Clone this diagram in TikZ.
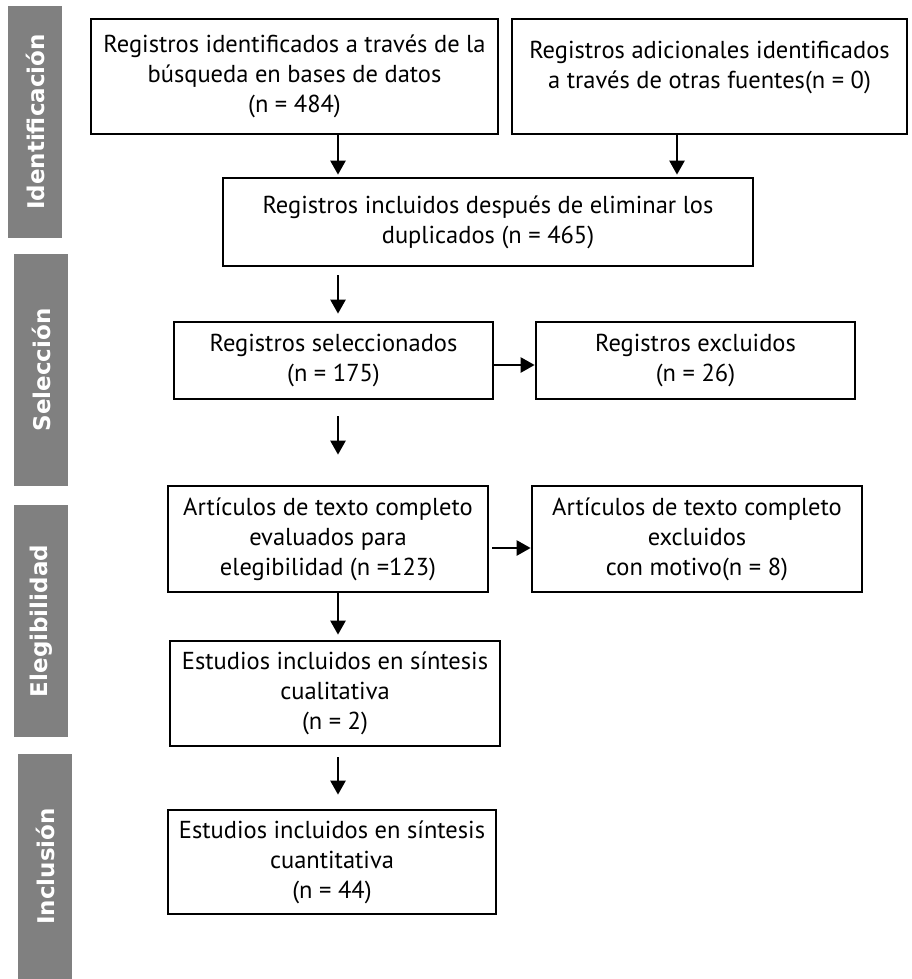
\documentclass[tikz,border=0pt]{standalone}
\usepackage{fontspec}
\setmainfont{PT Sans}
\newfontfamily\phasefont{DejaVu Sans}
\usetikzlibrary{arrows.meta}
\definecolor{phasegray}{HTML}{808080}

\begin{document}
\begin{tikzpicture}[x=1pt, y=-1pt,
  box/.style={draw, line width=2.7pt, inner sep=0pt, align=center,
    font=\fontsize{24.5}{30}\selectfont},
  boxtext/.style={align=center, inner sep=0pt, font=\fontsize{24.5}{30}\selectfont},
  phase/.style={fill=phasegray, text=white, rotate=90, inner sep=0pt,
    minimum height=54pt, font=\phasefont\bfseries\fontsize{23}{23}\selectfont},
  flow/.style={line width=2.4pt, -{Triangle[length=14pt,width=15pt]}}]
  \useasboundingbox (0,0) rectangle (911,979);

  % fases
  \node[phase, minimum width=232pt] (ident) at (35,122) {Identificación};
  \node[phase, minimum width=232pt] (selec) at (41,370) {Selección};
  \node[phase, minimum width=232pt] (elegi) at (41,621) {Elegibilidad};
  \node[phase, minimum width=225pt] (inclu) at (45,866.5) {Inclusión};

  % cajas
  \node[box, minimum width=407pt, minimum height=115pt] (busq) at (294.5,76.5)
    {Registros identificados a través de la\\búsqueda en bases de datos\\(n = 484)};
  \node[box, minimum width=395pt, minimum height=115pt] (otras) at (709.5,76.5) {};
  \node[boxtext] (otras-t) at ([yshift=9pt]otras.center)
    {Registros adicionales identificados\\a través de otras fuentes(n = 0)};
  \node[box, minimum width=530pt, minimum height=88pt] (dup) at (488,222)
    {Registros incluidos después de eliminar los\\duplicados (n = 465)};
  \node[box, minimum width=319pt, minimum height=77pt] (sel) at (333.5,360.5)
    {Registros seleccionados\\(n = 175)};
  \node[box, minimum width=319pt, minimum height=77pt] (exc) at (695.5,360.5)
    {Registros excluidos\\(n = 26)};
  \node[box, minimum width=320pt, minimum height=106pt] (art) at (328,539)
    {Artículos de texto completo\\evaluados para\\elegibilidad (n =123)};
  \node[box, minimum width=330pt, minimum height=106pt] (artx) at (697,539)
    {Artículos de texto completo\\excluidos\\con motivo(n = 8)};
  \node[box, minimum width=330pt, minimum height=105pt] (cual) at (335,693.5)
    {Estudios incluidos en síntesis\\cualitativa\\(n = 2)};
  \node[box, minimum width=328pt, minimum height=104pt] (cuan) at (332,862)
    {Estudios incluidos en síntesis\\cuantitativa\\(n = 44)};

  % flechas
  \coordinate (spine) at (338,0);
  \coordinate (side) at (677,0);
  \draw[flow, shorten >=2pt] (busq.south -| spine) -- (dup.north -| spine);
  \draw[flow, shorten >=2pt] (otras.south -| side) -- (dup.north -| side);
  \draw[flow, shorten <=8pt, shorten >=7pt] (dup.south -| spine) -- (sel.north -| spine);
  \draw[flow] (sel.east |- 0,365) -- (exc.west |- 0,365);
  \draw[flow, shorten <=16pt, shorten >=30pt] (sel.south -| spine) -- (art.north -| spine);
  \draw[flow, shorten <=3pt] (art.east |- 0,548) -- (artx.west |- 0,548);
  \draw[flow, shorten >=5pt] (art.south -| spine) -- (cual.north -| spine);
  \draw[flow, shorten <=10pt, shorten >=14pt] (cual.south -| spine) -- (cuan.north -| spine);
\end{tikzpicture}
\end{document}
